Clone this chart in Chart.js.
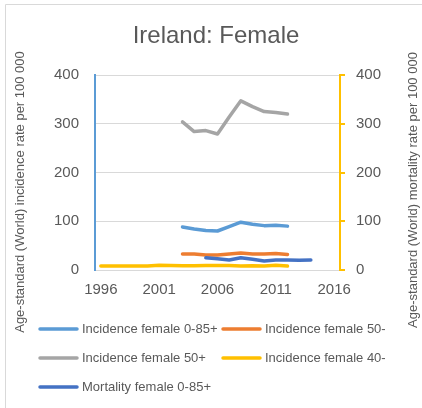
<!DOCTYPE html>
<html>
<head>
<meta charset="utf-8">
<script src="https://cdn.jsdelivr.net/npm/chart.js@4.4.1/dist/chart.umd.min.js"></script>
<style>
    html, body { margin: 0; padding: 0; background: #fff; }
    #wrap { position: relative; width: 422px; height: 408px; }
</style>
</head>
<body>
<div id="wrap"><canvas id="chart" width="422" height="408"></canvas></div>
<script>
// Chart data
const years = ['1996', '1997', '1998', '1999', '2000', '2001', '2002', '2003', '2004', '2005', '2006',
    '2007', '2008', '2009', '2010', '2011', '2012', '2013', '2014', '2015', '2016'];

const incidence0to85 = [null, null, null, null, null, null, null, 88, 84, 81, 80, 89, 98, 94, 91, 92, 90, null, null, null, null];
const incidence50minus = [null, null, null, null, null, null, null, 33, 33, 31, 31, 33, 35, 33, 33, 34, 32, null, null, null, null];
const incidence50plus = [null, null, null, null, null, null, null, 304, 284, 286, 279, 314, 347, 335, 325, 323, 320, null, null, null, null];
const incidence40minus = [8, 8, 8, 8, 8, 9.5, 9, 8.5, 8.5, 9, 9, 9, 8, 8.5, 8, 9.5, 8, null, null, null, null];
const mortality0to85 = [null, null, null, null, null, null, null, null, null, 25, 23, 20.5, 25, 22, 18.5, 20.5, 20.5, 20, 20.5, null, null];

const seriesNames = ['Incidence female 0-85+', 'Incidence female 50-', 'Incidence female 50+',
    'Incidence female 40-', 'Mortality female 0-85+'];
const seriesColors = ['#5B9BD5', '#ED7D31', '#A5A5A5', '#FFC000', '#4472C4'];
const yTicks = [0, 100, 200, 300, 400];

const FONT = "'Liberation Sans', Arial, sans-serif";
const TEXT = '#595959';

function makeSet(i, data, axis) {
    return {
        label: seriesNames[i],
        data: data,
        yAxisID: axis,
        borderColor: seriesColors[i],
        backgroundColor: seriesColors[i],
        borderWidth: 3.5,
        borderCapStyle: 'round',
        borderJoinStyle: 'round',
        pointRadius: 0,
        tension: 0,
        spanGaps: false,
        order: 5 - i
    };
}

// legend + axis titles + frame, drawn on the canvas
const decorPlugin = {
    id: 'decor',
    beforeDraw(chart) {
        const ctx = chart.ctx;
        ctx.save();
        ctx.strokeStyle = '#D9D9D9';
        ctx.lineWidth = 1;
        ctx.beginPath();
        ctx.moveTo(5.5, 420);
        ctx.lineTo(5.5, 4.5);
        ctx.lineTo(430, 4.5);
        ctx.stroke();
        ctx.restore();
    },
    afterDraw(chart) {
        const ctx = chart.ctx;
        ctx.save();
        ctx.fillStyle = TEXT;
        ctx.font = '13px ' + FONT;
        ctx.textAlign = 'center';
        ctx.textBaseline = 'middle';

        ctx.save();
        ctx.translate(20, 192);
        ctx.rotate(-Math.PI / 2);
        ctx.fillText('Age-standard (World) incidence rate per 100 000', 0, 0);
        ctx.restore();

        ctx.save();
        ctx.translate(413, 190);
        ctx.rotate(-Math.PI / 2);
        ctx.fillText('Age-standard (World) mortality rate per 100 000', 0, 0);
        ctx.restore();

        // legend, two columns
        const cols = [39, 222];
        const rows = [329, 358, 387];
        ctx.textAlign = 'left';
        chart.data.datasets.forEach((ds, i) => {
            const x = cols[i % 2];
            const y = rows[Math.floor(i / 2)];
            ctx.strokeStyle = ds.borderColor;
            ctx.lineWidth = 3.5;
            ctx.lineCap = 'round';
            ctx.beginPath();
            ctx.moveTo(x + 1, y);
            ctx.lineTo(x + 38, y);
            ctx.stroke();
            ctx.fillText(ds.label, x + 43, y + 0.5);
        });
        ctx.restore();
    }
};

new Chart(document.getElementById('chart'), {
    type: 'line',
    data: {
        labels: years,
        datasets: [
            makeSet(0, incidence0to85, 'y'),
            makeSet(1, incidence50minus, 'y'),
            makeSet(2, incidence50plus, 'y'),
            makeSet(3, incidence40minus, 'y'),
            makeSet(4, mortality0to85, 'y1')
        ]
    },
    options: {
        responsive: false,
        animation: false,
        layout: { padding: { left: 10, right: 0, top: 4, bottom: 108 } },
        plugins: {
            legend: { display: false },
            tooltip: { enabled: false },
            title: {
                display: true,
                text: 'Ireland: Female',
                color: TEXT,
                font: { family: FONT, size: 24, weight: 'normal', lineHeight: 1.2 },
                padding: { top: 17.6, bottom: 24.6 }
            }
        },
        scales: {
            x: {
                type: 'category',
                offset: true,
                grid: { display: false, drawTicks: false },
                border: { display: true, color: '#D9D9D9', width: 1 },
                ticks: {
                    autoSkip: false,
                    maxRotation: 0,
                    padding: 11,
                    color: TEXT,
                    font: { family: FONT, size: 15 },
                    callback: function (v, i) { return i % 5 === 0 ? years[i] : ''; }
                },
                afterFit(scale) { scale.height = 30; }
            },
            y: {
                position: 'left',
                min: 0,
                max: 400,
                afterBuildTicks(scale) { scale.ticks = yTicks.map(v => ({ value: v })); },
                grid: { color: '#D9D9D9', drawTicks: false },
                border: { color: '#5B9BD5', width: 2 },
                ticks: { padding: 16, color: TEXT, font: { family: FONT, size: 15 } },
                afterFit(scale) { scale.width = 85; }
            },
            y1: {
                position: 'right',
                min: 0,
                max: 400,
                afterBuildTicks(scale) { scale.ticks = yTicks.map(v => ({ value: v })); },
                grid: { drawOnChartArea: false, color: '#FFC000', tickLength: 5, lineWidth: 2 },
                border: { color: '#FFC000', width: 2 },
                ticks: { padding: 11, color: TEXT, font: { family: FONT, size: 15 } },
                afterFit(scale) { scale.width = 82; }
            }
        }
    },
    plugins: [decorPlugin]
});
</script>
</body>
</html>
